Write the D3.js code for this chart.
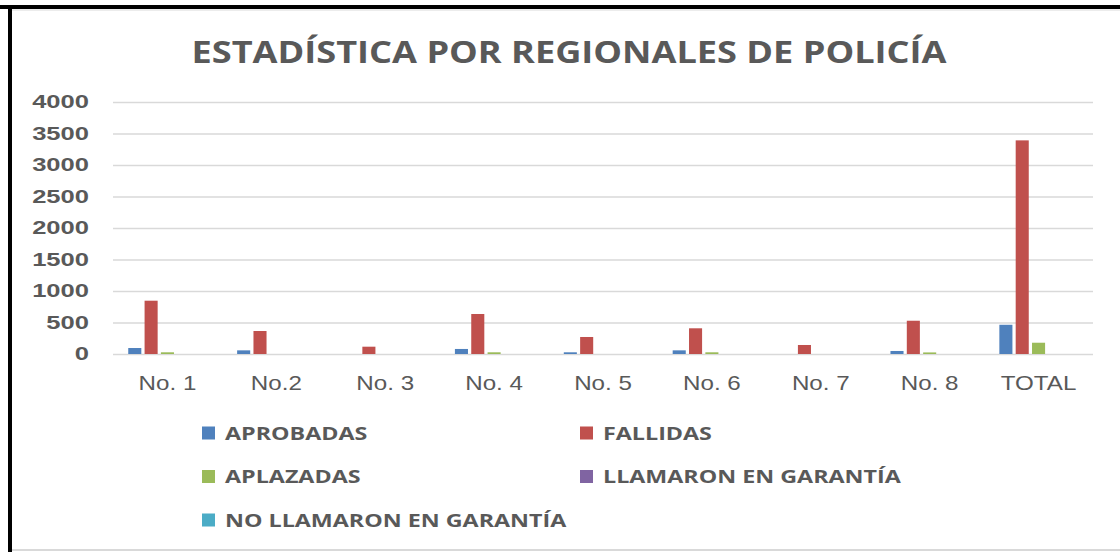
<!DOCTYPE html>
<html>
<head>
<meta charset="utf-8">
<script src="https://cdn.jsdelivr.net/npm/d3@7"></script>
<style>
  body { margin: 0; background: #fff; }
  svg { display: block; }
</style>
</head>
<body>
<div id="chart"></div>
<script>
// Estadística por regionales de policía — grouped bar chart
const categories = ["No. 1", "No.2", "No. 3", "No. 4", "No. 5", "No. 6", "No. 7", "No. 8", "TOTAL"];
const seriesNames = ["APROBADAS", "FALLIDAS", "APLAZADAS", "LLAMARON EN GARANTÍA", "NO LLAMARON EN GARANTÍA"];
const aprobadas = [95, 58, 0, 80, 27, 58, 0, 48, 464];
const fallidas = [846, 365, 116, 635, 270, 408, 143, 528, 3391];
const aplazadas = [27, 0, 0, 27, 0, 27, 0, 25, 179];
const llamaron = [0, 0, 0, 0, 0, 0, 0, 0, 0];
const noLlamaron = [0, 0, 0, 0, 0, 0, 0, 0, 0];
const yTicks = [0, 500, 1000, 1500, 2000, 2500, 3000, 3500, 4000];

const colors = ["#4F81BD", "#C0504D", "#9BBB59", "#8064A2", "#4BACC6"];
const values = [aprobadas, fallidas, aplazadas, llamaron, noLlamaron];

const W = 1120, H = 552;
const plot = { left: 113, right: 1093, top: 102, bottom: 354 };

const svg = d3.select("#chart").append("svg")
  .attr("width", W).attr("height", H);

// frame
svg.append("rect").attr("x", 0).attr("y", 0).attr("width", W).attr("height", H).attr("fill", "#fff");
svg.append("line").attr("x1", 12).attr("x2", W).attr("y1", 10).attr("y2", 10).attr("stroke", "#d9d9d9").attr("stroke-width", 1);
svg.append("line").attr("x1", 12).attr("x2", W).attr("y1", 550).attr("y2", 550).attr("stroke", "#d9d9d9").attr("stroke-width", 2);
svg.append("rect").attr("x", 0).attr("y", 5).attr("width", W).attr("height", 4).attr("fill", "#000");
svg.append("rect").attr("x", 8).attr("y", 5).attr("width", 4).attr("height", H).attr("fill", "#000");

const y = d3.scaleLinear().domain([0, 4000]).range([plot.bottom, plot.top]);
const x0 = d3.scaleBand().domain(categories).range([plot.left, plot.right])
  .paddingInner(0.25).paddingOuter(0.125);
const x1 = d3.scaleBand().domain(seriesNames).range([0, x0.bandwidth()])
  .paddingInner(0.2).paddingOuter(0.1);

// stretch a text horizontally (reference is wider than the fonts)
function stretch(sel, k) {
  sel.each(function () {
    const len = this.getComputedTextLength();
    d3.select(this).attr("textLength", len * k).attr("lengthAdjust", "spacingAndGlyphs");
  });
}

// grid + y labels
const yAxis = svg.append("g")
  .attr("transform", `translate(${plot.left},0)`)
  .call(d3.axisLeft(y).tickValues(yTicks).tickFormat(d3.format("d"))
    .tickSize(-(plot.right - plot.left)).tickPadding(24));
yAxis.select(".domain").remove();
yAxis.selectAll(".tick line").attr("stroke", "#d9d9d9").attr("stroke-width", 1.5);
const yText = yAxis.selectAll(".tick text")
  .attr("fill", "#595959")
  .attr("font-family", "'Liberation Sans', Arial, sans-serif")
  .attr("font-weight", "bold")
  .attr("font-size", 18);
stretch(yText, 1.42);

// x labels
const xAxis = svg.append("g")
  .attr("transform", `translate(0,${plot.bottom})`)
  .call(d3.axisBottom(x0).tickSize(0).tickPadding(21));
xAxis.select(".domain").remove();
const xText = xAxis.selectAll(".tick text")
  .attr("fill", "#595959")
  .attr("font-family", "'Liberation Sans', Arial, sans-serif")
  .attr("font-size", 21);
stretch(xText, 1.15);

// bars
const groups = svg.append("g").selectAll("g")
  .data(categories)
  .join("g")
  .attr("transform", d => `translate(${x0(d)},0)`);

groups.selectAll("rect")
  .data((c, i) => seriesNames.map((s, j) => ({ s, j, v: values[j][i] })))
  .join("rect")
  .attr("x", d => x1(d.s))
  .attr("y", d => y(d.v))
  .attr("width", x1.bandwidth())
  .attr("height", d => y(0) - y(d.v))
  .attr("fill", d => colors[d.j]);

// title
const title = svg.append("text")
  .attr("x", 569).attr("y", 63)
  .attr("text-anchor", "middle")
  .attr("fill", "#595959")
  .attr("font-family", "'Open Sans', sans-serif")
  .attr("font-weight", "bold")
  .attr("font-size", 30)
  .text("ESTADÍSTICA POR REGIONALES DE POLICÍA");
title.attr("textLength", 755).attr("lengthAdjust", "spacingAndGlyphs");

// legend
const legendPos = [[202, 433], [580, 433], [202, 476.5], [580, 476.5], [202, 520]];
const legend = svg.append("g").selectAll("g")
  .data(seriesNames)
  .join("g")
  .attr("transform", (d, i) => `translate(${legendPos[i][0]},${legendPos[i][1]})`);
legend.append("rect")
  .attr("x", 0).attr("y", -6.5).attr("width", 13).attr("height", 13)
  .attr("fill", (d, i) => colors[i]);
const legText = legend.append("text")
  .attr("x", 23).attr("y", 6.5)
  .attr("fill", "#595959")
  .attr("font-family", "'Open Sans', sans-serif")
  .attr("font-weight", "bold")
  .attr("font-size", 17.5)
  .text(d => d);
stretch(legText, 1.33);
</script>
</body>
</html>
